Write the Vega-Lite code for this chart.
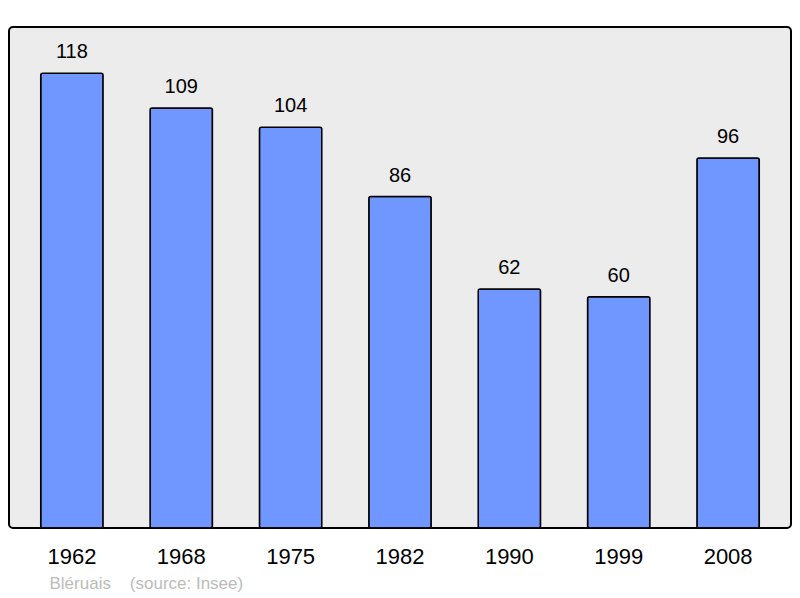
{
  "$schema": "https://vega.github.io/schema/vega-lite/v6.json",
  "autosize": "none",
  "width": 782,
  "height": 501,
  "padding": {"left": 9, "top": 27, "right": 9, "bottom": 70},
  "background": "white",
  "config": {
    "font": "Liberation Sans",
    "view": {"fill": "#ececec", "stroke": "black", "strokeWidth": 2, "cornerRadius": 4}
  },
  "data": {
    "values": [
      {"year": "1962", "pop": 118},
      {"year": "1968", "pop": 109},
      {"year": "1975", "pop": 104},
      {"year": "1982", "pop": 86},
      {"year": "1990", "pop": 62},
      {"year": "1999", "pop": 60},
      {"year": "2008", "pop": 96}
    ]
  },
  "encoding": {
    "x": {
      "field": "year",
      "type": "ordinal",
      "sort": null,
      "scale": {"paddingInner": 0.43, "paddingOuter": 0.29},
      "axis": {
        "domain": false,
        "ticks": false,
        "labelAngle": 0,
        "labelFontSize": 22,
        "labelColor": "black",
        "labelPadding": 18,
        "title": "Bléruais\u00a0\u00a0\u00a0\u00a0(source: Insee)",
        "titleAnchor": "start",
        "titleAlign": "left",
        "titleBaseline": "top",
        "titleX": 40,
        "titleY": 47,
        "titleFontSize": 17,
        "titleFontWeight": "normal",
        "titleColor": "#bbbbbb"
      }
    },
    "y": {
      "field": "pop",
      "type": "quantitative",
      "scale": {"domain": [0, 130], "nice": false},
      "axis": null
    }
  },
  "layer": [
    {
      "mark": {"type": "bar", "fill": "#7096ff", "stroke": "black", "strokeWidth": 1.5, "cornerRadius": 2}
    },
    {
      "mark": {"type": "text", "fontSize": 20, "color": "black", "baseline": "alphabetic", "dy": -15},
      "encoding": {"text": {"field": "pop", "type": "quantitative"}}
    }
  ]
}
